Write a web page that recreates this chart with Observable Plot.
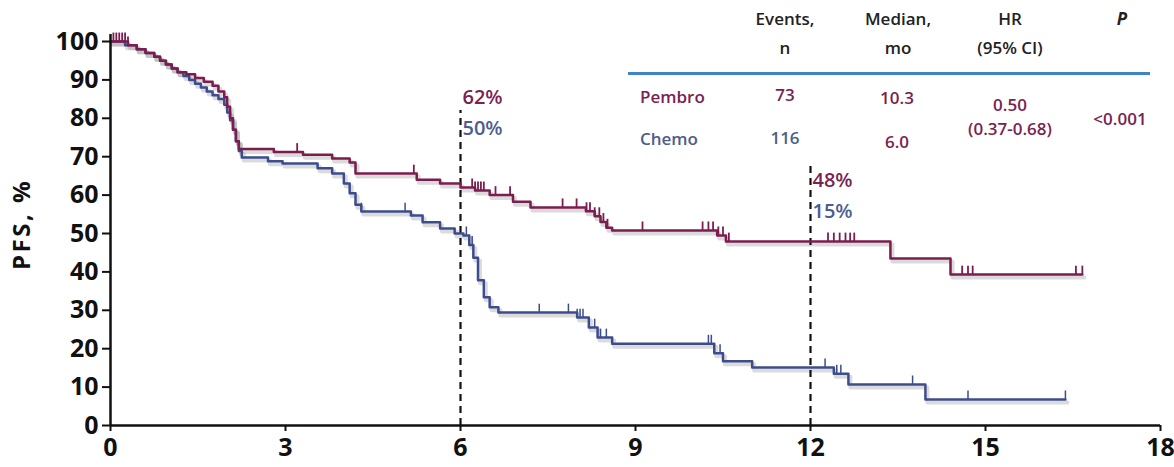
<!DOCTYPE html>
<html>
<head>
<meta charset="utf-8">
<script src="https://cdn.jsdelivr.net/npm/d3@7"></script>
<script src="https://cdn.jsdelivr.net/npm/@observablehq/plot@0.6"></script>
<style>
  html, body { margin: 0; padding: 0; background: #fff; }
  #wrap { position: relative; width: 1174px; height: 467px; font-family: "Open Sans", sans-serif; }
  #table { position: absolute; left: 0; top: 0; width: 1174px; height: 467px; pointer-events: none; }
  #table span { position: absolute; transform: translate(-50%, -50%); white-space: nowrap; font-size: 17px; font-weight: 600; line-height: 1; }
  #table span.left { transform: translate(0, -50%); }
  #table .rule { position: absolute; left: 628px; top: 72px; width: 522px; height: 3px; background: #3d85c6; }
</style>
</head>
<body>
<div id="wrap"><div id="chart"></div><div id="table"></div></div>
<script>
// ---- data ----
const xTicks = [0, 3, 6, 9, 12, 15, 18];
const yTicks = [0, 10, 20, 30, 40, 50, 60, 70, 80, 90, 100];

// Pembro KM step curve (months, PFS %)
const pembroT = [0, 0.3, 0.45, 0.6, 0.75, 0.85, 0.95, 1.05, 1.15, 1.3, 1.45, 1.6, 1.75, 1.85, 1.95, 2.0, 2.05, 2.1, 2.15, 2.2, 2.8, 3.3, 3.8, 4.1, 4.2, 5.25, 5.65, 6.0, 6.25, 6.5, 6.9, 7.2, 8.15, 8.3, 8.4, 8.5, 8.6, 10.4, 10.55, 13.37, 14.4, 16.66];
const pembroS = [100, 99, 98, 97, 96, 95, 94, 93, 92, 91.5, 90.5, 89.5, 88.5, 87, 85.5, 83, 80, 77, 74, 72, 71.2, 70.5, 69.5, 68.5, 65.6, 64, 63, 62, 61.2, 60, 58.3, 56.8, 55.8, 54.5, 53, 51.5, 50.8, 49.5, 47.9, 43.5, 39.3, 39.3];
const pembroCensor = [0.05, 0.1, 0.15, 0.2, 0.25, 0.3, 3.2, 5.2, 6.2, 6.25, 6.3, 6.35, 6.4, 6.6, 6.85, 7.75, 7.99, 8.16, 8.22, 8.3, 8.38, 8.45, 8.52, 9.12, 10.15, 10.25, 10.33, 10.42, 10.5, 10.6, 12.3, 12.4, 12.5, 12.6, 12.68, 12.75, 14.6, 14.7, 14.78, 16.55, 16.66];

// Chemo KM step curve (months, PFS %)
const chemoT = [0, 0.25, 0.45, 0.6, 0.75, 0.85, 0.95, 1.05, 1.15, 1.25, 1.35, 1.45, 1.55, 1.65, 1.75, 1.85, 1.95, 2.0, 2.05, 2.1, 2.15, 2.2, 2.25, 2.7, 2.95, 3.55, 3.8, 4.0, 4.1, 4.2, 4.3, 5.15, 5.35, 5.65, 5.9, 6.05, 6.15, 6.22, 6.3, 6.4, 6.5, 6.65, 8.0, 8.2, 8.35, 8.6, 10.35, 10.5, 11.0, 12.4, 12.65, 13.97, 16.37];
const chemoS = [100, 99, 98, 97, 96, 95, 94, 93, 92, 91, 90, 89, 88, 87, 86, 85, 83.5, 81.5, 79.5, 77, 74, 71.5, 69.8, 68.8, 68.2, 67, 65.6, 63, 60.5, 57.5, 55.7, 54.7, 52.9, 51.3, 50, 49.5, 47, 43.7, 37.8, 33.4, 30.8, 29.4, 28.1, 25.5, 22.9, 21.3, 18.8, 16.7, 15.1, 13.5, 10.7, 6.8, 6.8];
const chemoCensor = [4.3, 5.05, 6.1, 6.2, 6.3, 7.35, 7.85, 8.0, 8.05, 8.1, 8.3, 8.4, 8.5, 10.25, 10.3, 10.45, 12.25, 12.45, 12.52, 13.75, 14.7, 16.37];

// landmark annotations
const landmarkT = [6, 12];
const landmarkTop = [82, 68];
const pembroLandmark = ["62%", "48%"];
const chemoLandmark = ["50%", "15%"];

// table content
const tableHeader1 = ["Events,", "Median,", "HR", "P"];
const tableHeader2 = ["n", "mo", "(95% CI)", ""];
const armNames = ["Pembro", "Chemo"];
const armEvents = ["73", "116"];
const armMedian = ["10.3", "6.0"];
const hrText = ["0.50", "(0.37-0.68)"];
const pText = "<0.001";

// ---- styling ----
const PEMBRO = "#7b1d4e";
const CHEMO = "#3d4c8c";
const PEMBRO_TXT = "#7a2352";
const CHEMO_TXT = "#4d5d8e";

function series(T, S, arm) { return T.map((t, i) => ({t, s: S[i], arm})); }
function stepAt(T, S, t) { let v = S[0]; for (let i = 0; i < T.length; i++) if (T[i] <= t) v = S[i]; return v; }
const pembro = series(pembroT, pembroS, "Pembro");
const chemo = series(chemoT, chemoS, "Chemo");
const pembroC = pembroCensor.map(t => ({t, s: stepAt(pembroT, pembroS, t)}));
const chemoC = chemoCensor.map(t => ({t, s: stepAt(chemoT, chemoS, t)}));
const landmarks = landmarkT.map((t, i) => ({t, top: landmarkTop[i], p: pembroLandmark[i], c: chemoLandmark[i]}));

const shadow = {stroke: "#888", strokeOpacity: 0.3, strokeWidth: 4, dx: 2, dy: 3};

const chart = Plot.plot({
  width: 1174,
  height: 467,
  marginLeft: 110,
  marginRight: 14,
  marginTop: 41,
  marginBottom: 42,
  style: {fontFamily: "Open Sans, sans-serif", background: "#fff", overflow: "visible"},
  x: {domain: [0, 18]},
  y: {domain: [0, 100]},
  marks: [
    // shadows
    Plot.line(chemo, {x: "t", y: "s", curve: "step-after", ...shadow}),
    Plot.line(pembro, {x: "t", y: "s", curve: "step-after", ...shadow}),
    // dashed landmark lines
    Plot.ruleX(landmarks, {x: "t", y1: 0, y2: "top", stroke: "#111", strokeWidth: 2.2, strokeDasharray: "7,5"}),
    // curves
    Plot.line(chemo, {x: "t", y: "s", curve: "step-after", stroke: CHEMO, strokeWidth: 2.5}),
    Plot.ruleX(chemoC, {x: "t", y1: "s", y2: d => d.s + 2.2, stroke: CHEMO, strokeWidth: 1.5}),
    Plot.line(pembro, {x: "t", y: "s", curve: "step-after", stroke: PEMBRO, strokeWidth: 2.5}),
    Plot.ruleX(pembroC, {x: "t", y1: "s", y2: d => d.s + 2.2, stroke: PEMBRO, strokeWidth: 1.8}),
    // landmark labels
    Plot.text(landmarks, {x: "t", y: d => d.t === 6 ? 85.4 : 63.8, text: "p", textAnchor: "start", dx: 2, fill: PEMBRO_TXT, fontSize: 20, fontWeight: 600}),
    Plot.text(landmarks, {x: "t", y: d => d.t === 6 ? 77.3 : 55.7, text: "c", textAnchor: "start", dx: 2, fill: CHEMO_TXT, fontSize: 20, fontWeight: 600}),
    // axes
    Plot.axisY({ticks: yTicks, tickSize: 8, tickPadding: 4, fontSize: 25, fontWeight: "bold", stroke: "#111", strokeWidth: 2, label: null, color: "#111"}),
    Plot.axisX({ticks: xTicks, tickSize: 6, tickPadding: 7, fontSize: 25, fontWeight: "bold", stroke: "#111", strokeWidth: 2, label: null, color: "#111"}),
    Plot.ruleX([0], {y1: 0, y2: 101.8, stroke: "#111", strokeWidth: 2.5}),
    Plot.ruleY([0], {stroke: "#111", strokeWidth: 2.5}),
    Plot.text(["PFS, %"], {frameAnchor: "left", y: 40.5, dx: -88, rotate: -90, fontSize: 24, fontWeight: "bold", fill: "#111"})
  ]
});
document.getElementById("chart").appendChild(chart);
d3.select(chart).selectAll("text").filter(function() { return this.textContent === "PFS, %"; }).style("letter-spacing", "2.5px");

// table overlay
const tbl = document.getElementById("table");
function put(txt, x, y, color, cls, extra) {
  const s = document.createElement("span");
  s.textContent = txt;
  s.style.left = x + "px";
  s.style.top = y + "px";
  s.style.color = color;
  if (cls) s.className = cls;
  if (extra) Object.assign(s.style, extra);
  tbl.appendChild(s);
}
const colX = [785, 898, 1010, 1122];
tableHeader1.forEach((t, i) => put(t, colX[i], 18, "#222", null, i === 3 ? {fontStyle: "italic", fontWeight: "700"} : null));
tableHeader2.forEach((t, i) => { if (t) put(t, colX[i], 47, "#222"); });
const rule = document.createElement("div"); rule.className = "rule"; tbl.appendChild(rule);
put(armNames[0], 640, 96, PEMBRO_TXT, "left");
put(armNames[1], 640, 138, CHEMO_TXT, "left");
put(armEvents[0], 785, 94, PEMBRO_TXT);
put(armEvents[1], 785, 137, CHEMO_TXT);
put(armMedian[0], 897, 97, PEMBRO_TXT);
put(armMedian[1], 897, 141, PEMBRO_TXT);
put(hrText[0], 1010, 104, PEMBRO_TXT);
put(hrText[1], 1010, 128, PEMBRO_TXT);
put(pText, 1120, 118, PEMBRO_TXT);
</script>
</body>
</html>
